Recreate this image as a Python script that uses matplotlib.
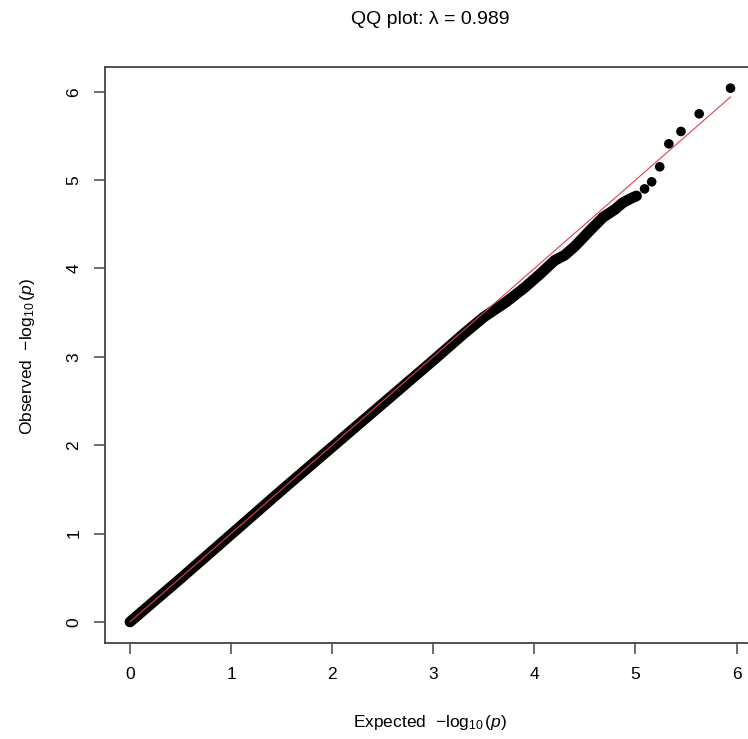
import matplotlib
matplotlib.use("Agg")
import matplotlib.pyplot as plt

# dense part of the QQ curve (expected vs observed -log10 p)
exp_dense = [0.0, 0.5, 1.0, 1.5, 2.0, 2.5, 3.0, 3.3, 3.5, 3.72, 3.9, 4.05,
             4.2, 4.3, 4.4, 4.55, 4.68, 4.8, 4.87, 4.95, 5.01]
obs_dense = [0.0, 0.49, 0.99, 1.49, 1.98, 2.47, 2.96, 3.26, 3.45, 3.62, 3.78, 3.93,
             4.09, 4.15, 4.25, 4.43, 4.58, 4.67, 4.74, 4.79, 4.82]

# sparse top tail, individual points
exp_tail = [5.09, 5.16, 5.24, 5.33, 5.45, 5.63, 5.94]
obs_tail = [4.90, 4.98, 5.15, 5.41, 5.55, 5.75, 6.04]

lam = 0.989
ticks = [0, 1, 2, 3, 4, 5, 6]

plt.rcParams["font.family"] = ["Liberation Sans", "DejaVu Sans"]
plt.rcParams["mathtext.fontset"] = "custom"
plt.rcParams["mathtext.rm"] = "Liberation Sans"
plt.rcParams["mathtext.it"] = "Liberation Sans:italic"

fig = plt.figure(figsize=(7.48, 7.39), dpi=100)
ax = fig.add_axes([0.1404, 0.130, 0.870, 0.7794])

ax.plot(exp_dense, obs_dense, color="black", lw=7.8, solid_capstyle="round",
        solid_joinstyle="round", zorder=2)
ax.scatter(exp_tail, obs_tail, s=48, color="black", edgecolors="none", zorder=3)
mx = max(exp_tail)
ax.plot([0, mx], [0, mx], color="#e0404f", lw=0.8, zorder=4)

ax.set_xlim(-0.247, 6.19)
ax.set_ylim(-0.238, 6.28)
ax.set_xticks(ticks)
ax.set_yticks(ticks)
ax.tick_params(length=8, width=1.1, color="#444444", labelsize=12.5, pad=9)
for lab in ax.get_yticklabels():
    lab.set_rotation(90)
    lab.set_va("center")
for sp in ax.spines.values():
    sp.set_color("#444444")
    sp.set_linewidth(1.3)

fig.text(430 / 748, 1 - 722 / 739, r"Expected  $-\log_{10}(p)$", ha="center",
         va="center", fontsize=12.5)
fig.text(28 / 748, 1 - 356 / 739, r"Observed  $-\log_{10}(p)$", ha="center",
         va="center", rotation=90, fontsize=12.5)
fig.text(430 / 748, 1 - 20 / 739, "QQ plot: λ = %.3f" % lam, ha="center",
         va="center", fontsize=14)

fig.savefig("out.png", dpi=100)
